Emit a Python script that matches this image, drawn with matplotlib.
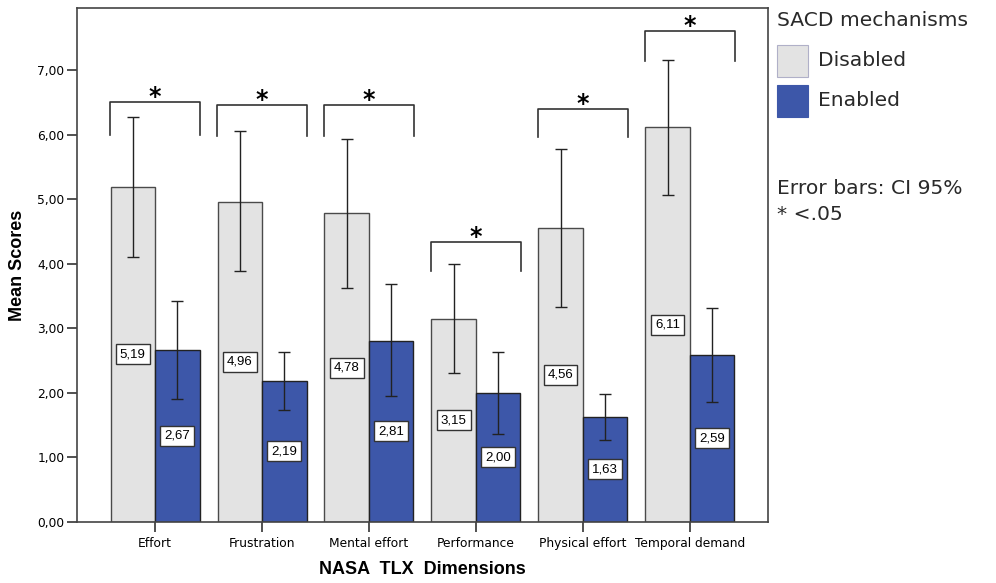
import matplotlib.pyplot as plt
import numpy as np
from matplotlib.patches import Rectangle

categories = ["Effort", "Frustration", "Mental effort", "Performance",
              "Physical effort", "Temporal demand"]
disabled = [5.19, 4.96, 4.78, 3.15, 4.56, 6.11]
enabled = [2.67, 2.19, 2.81, 2.00, 1.63, 2.59]
disabled_ci_low = [4.10, 3.88, 3.63, 2.30, 3.33, 5.07]
disabled_ci_high = [6.27, 6.05, 5.93, 4.00, 5.78, 7.16]
enabled_ci_low = [1.91, 1.73, 1.95, 1.37, 1.27, 1.86]
enabled_ci_high = [3.43, 2.64, 3.68, 2.63, 1.98, 3.31]
bracket_top = [6.50, 6.45, 6.46, 4.34, 6.40, 7.60]
bracket_leg = [6.00, 5.98, 5.98, 3.88, 5.96, 7.14]
yticks = [0, 1, 2, 3, 4, 5, 6, 7]

plt.rcParams["font.family"] = ["Liberation Sans", "DejaVu Sans"]

fig = plt.figure(figsize=(9.96, 5.83), dpi=100)
ax = fig.add_axes([0.0773, 0.1046, 0.6937, 0.8817])

x = np.arange(len(categories))
w = 0.416
grey = "#e3e3e3"
blue = "#3d57a9"
dark = "#222222"

dis = np.array(disabled)
en = np.array(enabled)
ax.bar(x - w / 2, dis, w, color=grey, edgecolor="#4a4a4a", linewidth=1.0, zorder=2)
ax.bar(x + w / 2, en, w, color=blue, edgecolor="#222222", linewidth=1.0, zorder=2)

ax.errorbar(x - w / 2, dis,
            yerr=[dis - np.array(disabled_ci_low), np.array(disabled_ci_high) - dis],
            fmt="none", ecolor=dark, elinewidth=1.0, capsize=4.5, capthick=1.0, zorder=3)
ax.errorbar(x + w / 2, en,
            yerr=[en - np.array(enabled_ci_low), np.array(enabled_ci_high) - en],
            fmt="none", ecolor=dark, elinewidth=1.0, capsize=4.5, capthick=1.0, zorder=3)

# value labels at mid-height
box = dict(boxstyle="square,pad=0.3", facecolor="white", edgecolor="#333333", linewidth=1.0)
for xi, v in zip(x - w / 2, disabled):
    ax.text(xi, v / 2, f"{v:.2f}".replace(".", ","), ha="center", va="center",
            fontsize=9.5, bbox=box, zorder=4)
for xi, v in zip(x + w / 2, enabled):
    ax.text(xi, v / 2, f"{v:.2f}".replace(".", ","), ha="center", va="center",
            fontsize=9.5, bbox=box, zorder=4)

# significance brackets
for xi, top, leg in zip(x, bracket_top, bracket_leg):
    ax.plot([xi - 0.42, xi - 0.42, xi + 0.42, xi + 0.42], [leg, top, top, leg],
            color="#333333", linewidth=1.2, zorder=3)
    ax.text(xi, top + 0.08, "*", ha="center", va="center", fontsize=17,
            fontweight="bold", family="DejaVu Sans")

ax.set_xlim(-0.73, 5.73)
ax.set_ylim(0, 7.96)
ax.set_yticks(yticks)
ax.set_yticklabels([f"{t:.2f}".replace(".", ",") for t in yticks])
ax.set_xticks(x)
ax.set_xticklabels(categories)
ax.tick_params(axis="both", direction="out", length=7, width=1.2, color="#333333",
               labelsize=8.8, pad=2)
ax.tick_params(axis="x", pad=4)
for lbl in ax.get_xticklabels() + ax.get_yticklabels():
    lbl.set_family("DejaVu Sans")
for s in ax.spines.values():
    s.set_color("#444444")
    s.set_linewidth(1.2)

ax.set_ylabel("Mean Scores", fontsize=13, fontweight="bold", labelpad=8)
ax.set_xlabel("NASA  TLX  Dimensions", fontsize=13, fontweight="bold", labelpad=8)

# legend drawn on the figure to the right of the axes
W, H = 996, 583
def fx(px):
    return px / W
def fy(py):
    return 1 - py / H

lf = "DejaVu Sans"
fs = 14.6
fig.text(fx(777), fy(21), "SACD mechanisms", fontsize=fs, family=lf, va="center", color="#2a2a2a")
fig.add_artist(Rectangle((fx(777), fy(77)), fx(31), 32 / H, facecolor=grey,
                         edgecolor="#b0b0c8", linewidth=0.8, transform=fig.transFigure))
fig.add_artist(Rectangle((fx(777), fy(117)), fx(31), 32 / H, facecolor=blue,
                         edgecolor=blue, linewidth=0.8, transform=fig.transFigure))
fig.text(fx(818), fy(61), "Disabled", fontsize=fs, family=lf, va="center", color="#2a2a2a")
fig.text(fx(818), fy(101), "Enabled", fontsize=fs, family=lf, va="center", color="#2a2a2a")
fig.text(fx(777), fy(189), "Error bars: CI 95%", fontsize=fs, family=lf, va="center", color="#2a2a2a")
fig.text(fx(777), fy(214), "* <.05", fontsize=fs, family=lf, va="center", color="#2a2a2a")

fig.savefig("out.png", dpi=100)
